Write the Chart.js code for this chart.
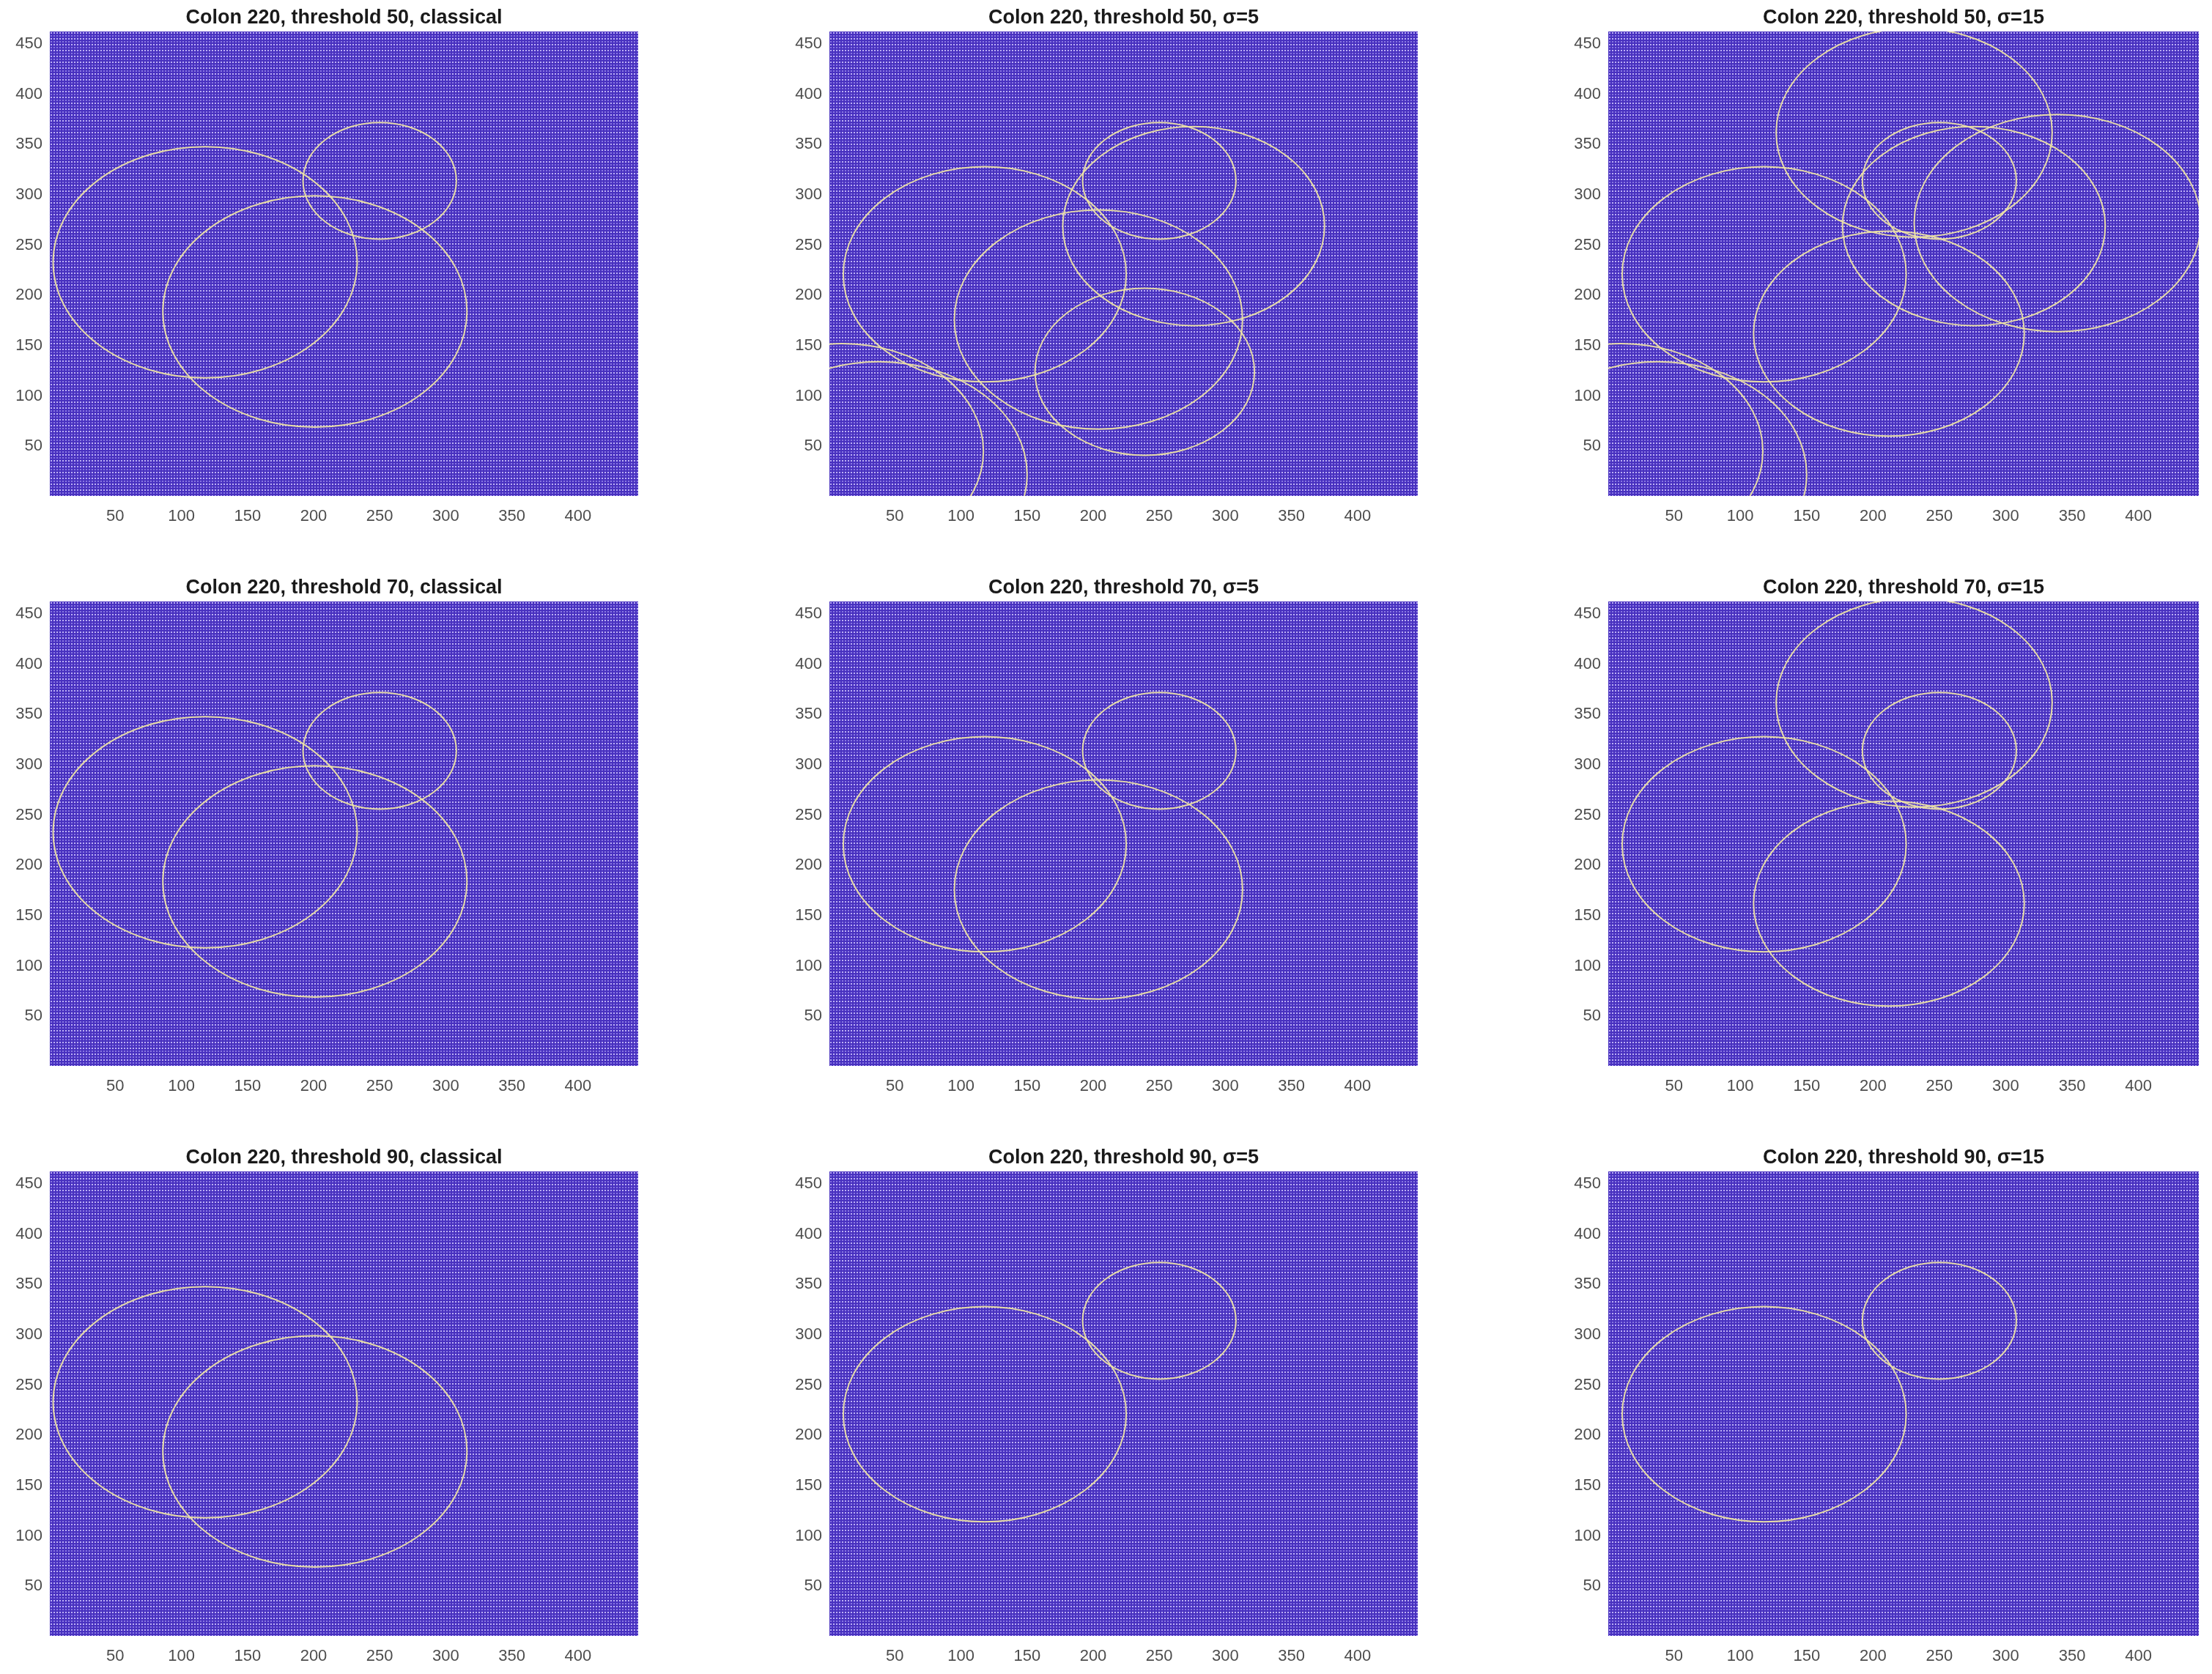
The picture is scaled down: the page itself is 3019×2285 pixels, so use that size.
<!DOCTYPE html>
<html>
<head>
<meta charset="utf-8">
<script src="https://cdn.jsdelivr.net/npm/chart.js@4.4.1/dist/chart.umd.min.js"></script>
<style>
  body { margin: 0; background: #fff; width: 3019px; height: 2285px; overflow: hidden; position: relative; }
  canvas { position: absolute; }
</style>
</head>
<body>
<script>
// circles found by the detector (centre x, centre y, radius, in image pixels)
const circleIds = ['A', 'B', 'C', 'L', 'M5', 'D5', 'E5', 'P', 'Q', 'T15', 'R15', 'D15'];
const circleCx  = [118, 250, 201, 118, 276, 204, 239, 10, 38, 231, 339, 212];
const circleCy  = [233, 314, 184, 221, 269, 176, 124, 45, 22, 362, 272, 162];
const circleR   = [115, 58, 115, 107, 99, 109, 83, 107, 112, 104, 108, 102];

const thresholds = [50, 70, 90];
const methods = ['classical', '\u03C3=5', '\u03C3=15'];

// which circles show up in each panel, row by row
const panelCircles = [
  ['A', 'B', 'C'],
  ['L', 'B', 'M5', 'D5', 'E5', 'P', 'Q'],
  ['T15', 'B', 'M5', 'R15', 'L', 'D15', 'P', 'Q'],
  ['A', 'B', 'C'],
  ['L', 'B', 'D5'],
  ['T15', 'B', 'L', 'D15'],
  ['A', 'C'],
  ['L', 'B'],
  ['L', 'B']
];

const xTicks = [50, 100, 150, 200, 250, 300, 350, 400];
const yTicks = [50, 100, 150, 200, 250, 300, 350, 400, 450];
const xRange = [0.5, 445.5];
const yRange = [0.5, 462.5];

// layout of the 3x3 grid (plot area boxes)
const plotLefts = [68, 1132, 2195];
const plotWidths = [803, 803, 806];
const plotTops = [43, 821, 1599];
const plotHeight = 634;
const yAxisW = 68, xAxisH = 50;

//////////////////////////
/// dotted background  ///
//////////////////////////
function makePattern(ctx) {
    let c = document.createElement('canvas');
    c.width = 4; c.height = 8;
    let g = c.getContext('2d');
    g.fillStyle = '#4831bf';
    g.fillRect(0, 0, 4, 8);
    g.fillStyle = 'rgba(210,200,255,0.85)';
    g.fillRect(1, 1, 2, 2);
    g.fillStyle = 'rgba(180,165,250,0.6)';
    g.fillRect(1, 5, 2, 2);
    return ctx.createPattern(c, 'repeat');
}

const gridBackground = {
    id: 'gridBackground',
    beforeDatasetsDraw(chart) {
        let a = chart.chartArea;
        let ctx = chart.ctx;
        ctx.save();
        ctx.fillStyle = makePattern(ctx);
        ctx.translate(a.left, a.top);
        ctx.fillRect(0, 0, a.right - a.left, a.bottom - a.top);
        ctx.restore();
    }
};

// circles are drawn in data units, so they come out as ellipses on screen
const circleDraw = {
    id: 'circleDraw',
    afterDatasetsDraw(chart) {
        let a = chart.chartArea;
        let xs = chart.scales.x, ys = chart.scales.y;
        let ctx = chart.ctx;
        ctx.save();
        ctx.beginPath();
        ctx.rect(a.left, a.top, a.right - a.left, a.bottom - a.top);
        ctx.clip();
        ctx.strokeStyle = 'rgba(236,226,165,0.95)';
        ctx.lineWidth = 2;
        chart.data.datasets.forEach(ds => {
            let p = ds.data[0];
            let px = xs.getPixelForValue(p.x);
            let py = ys.getPixelForValue(p.y);
            let rx = Math.abs(xs.getPixelForValue(p.x + ds.radius) - px);
            let ry = Math.abs(ys.getPixelForValue(p.y + ds.radius) - py);
            ctx.beginPath();
            ctx.ellipse(px, py, rx, ry, 0, 0, Math.PI * 2);
            ctx.stroke();
        });
        ctx.restore();
    }
};

const tickFont = { family: 'Liberation Sans, Arial, sans-serif', size: 22 };

function buildPanel(row, col) {
    let idx = row * 3 + col;
    let canvas = document.createElement('canvas');
    // an empty right-hand axis as wide as the left one keeps the title centred on the plot
    let w = yAxisW + plotWidths[col] + yAxisW;
    let h = 43 + plotHeight + xAxisH;
    canvas.width = w;
    canvas.height = h;
    canvas.style.left = (plotLefts[col] - yAxisW) + 'px';
    canvas.style.top = (plotTops[row] - 43) + 'px';
    document.body.appendChild(canvas);

    let datasets = panelCircles[idx].map(id => {
        let i = circleIds.indexOf(id);
        return {
            label: id,
            data: [{ x: circleCx[i], y: circleCy[i] }],
            radius: circleR[i],
            pointRadius: 0
        };
    });

    new Chart(canvas.getContext('2d'), {
        type: 'scatter',
        data: { datasets: datasets },
        options: {
            responsive: false,
            animation: false,
            devicePixelRatio: 1,
            layout: { padding: 0 },
            plugins: {
                legend: { display: false },
                tooltip: { enabled: false },
                title: {
                    display: true,
                    text: 'Colon 220, threshold ' + thresholds[row] + ', ' + methods[col],
                    color: '#1a1a1a',
                    font: { family: 'Liberation Sans, Arial, sans-serif', size: 27, weight: 'bold', lineHeight: 1.2 },
                    padding: { top: 8, bottom: 2.6 }
                }
            },
            scales: {
                x: {
                    type: 'linear',
                    min: xRange[0],
                    max: xRange[1],
                    grid: { display: false, drawTicks: false },
                    border: { display: false },
                    afterBuildTicks: s => { s.ticks = xTicks.map(v => ({ value: v })); },
                    afterFit: s => { s.height = xAxisH; },
                    ticks: { padding: 15, maxRotation: 0, color: '#4d4d4d', font: tickFont }
                },
                y: {
                    type: 'linear',
                    min: yRange[0],
                    max: yRange[1],
                    grid: { display: false, drawTicks: false },
                    border: { display: false },
                    afterBuildTicks: s => { s.ticks = yTicks.map(v => ({ value: v })); },
                    afterFit: s => { s.width = yAxisW; },
                    ticks: { padding: 10, color: '#4d4d4d', font: tickFont }
                },
                y2: {
                    type: 'linear',
                    position: 'right',
                    min: yRange[0],
                    max: yRange[1],
                    grid: { display: false, drawTicks: false },
                    border: { display: false },
                    ticks: { display: false },
                    afterFit: s => { s.width = yAxisW; }
                }
            }
        },
        plugins: [gridBackground, circleDraw]
    });
}

for (let r = 0; r < 3; r++) {
    for (let c = 0; c < 3; c++) {
        buildPanel(r, c);
    }
}
</script>
</body>
</html>
